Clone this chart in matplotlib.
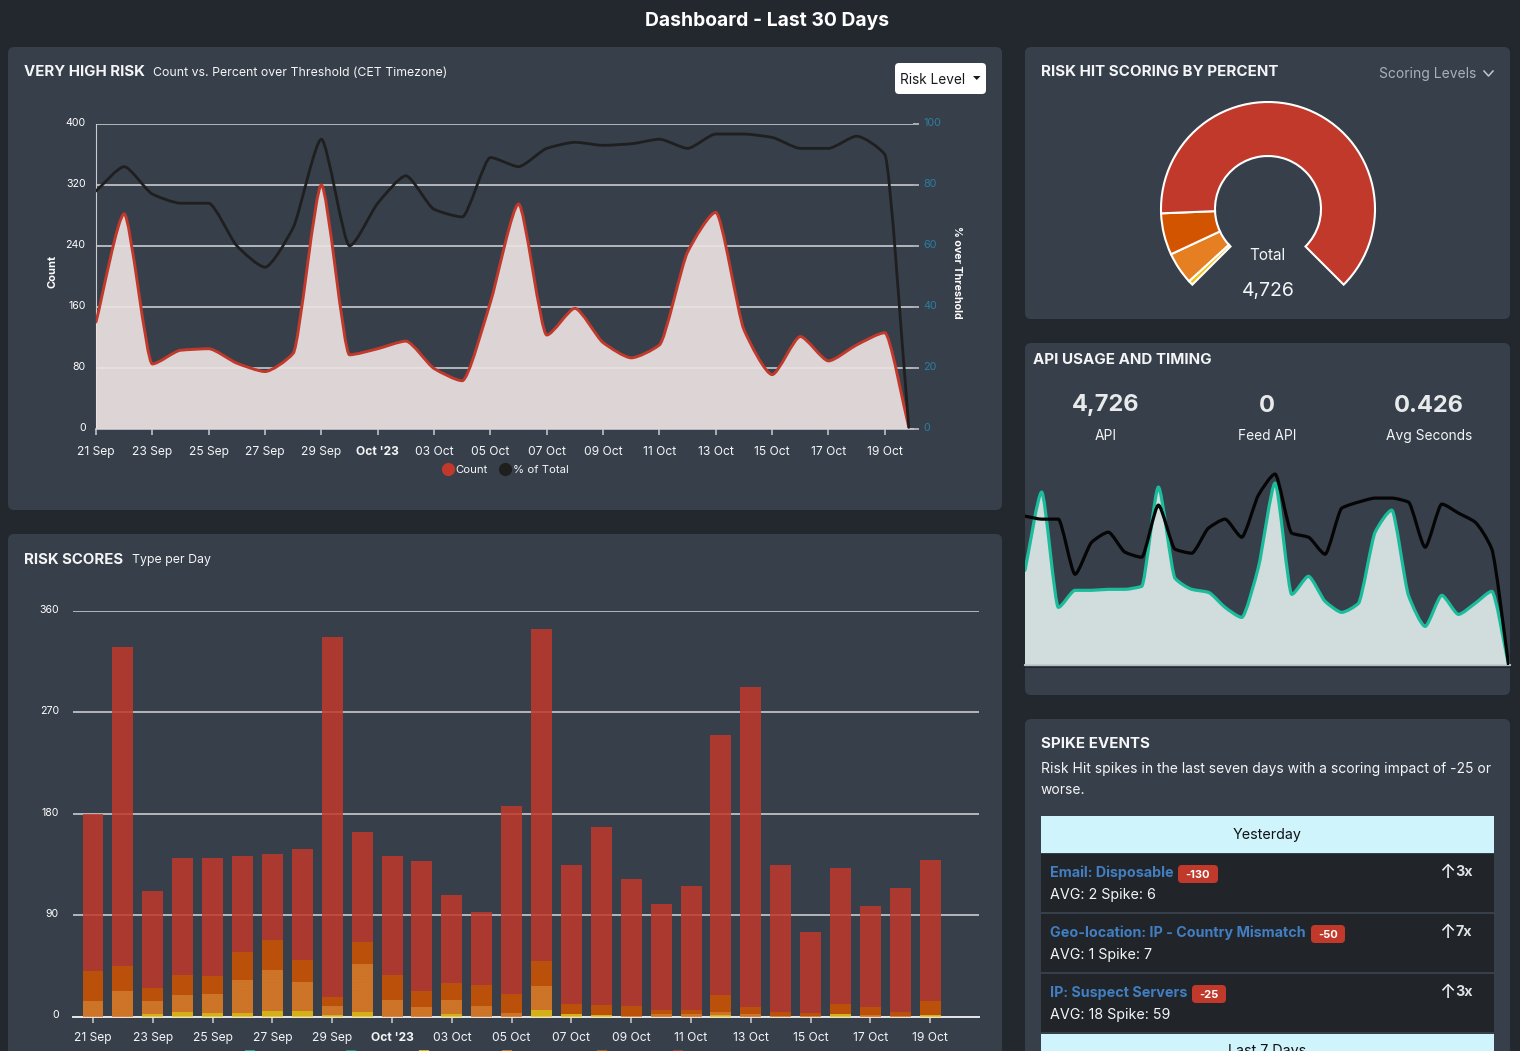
import numpy as np
import matplotlib
matplotlib.use('Agg')
import matplotlib.pyplot as plt
from matplotlib.lines import Line2D
from matplotlib.patches import FancyBboxPatch, PathPatch, Rectangle
from matplotlib.path import Path
from matplotlib.transforms import ScaledTranslation

plt.rcParams['font.family'] = ['Inter', 'DejaVu Sans']
plt.rcParams['hatch.linewidth'] = 0.4

W, H = 1520, 1051
PAGE = '#23272e'
PANEL = '#373f4a'
WHITE = '#f4f5f6'
GRID = '#c9ccd0'
RED = '#c0392b'
DARK = '#d35400'
ORANGE = '#e67e22'
YELLOW = '#f1c40f'
TEAL = '#1abc9c'
BLACK = '#1f1f1f'

# every second day gets a label
date_labels = ['21 Sep', '23 Sep', '25 Sep', '27 Sep', '29 Sep', "Oct '23", '03 Oct', '05 Oct',
               '07 Oct', '09 Oct', '11 Oct', '13 Oct', '15 Oct', '17 Oct', '19 Oct']
date_ticks = list(range(0, 29, 2))

# Very high risk chart
risk_days = list(range(29)) + [28.85]
risk_count = [140, 282, 85, 103, 105, 86, 75, 99, 320, 97, 105, 115, 79, 63, 166, 295,
              123, 158, 113, 93, 110, 232, 284, 130, 71, 121, 89, 110, 126, 2]
risk_percent = [78, 86, 77, 74, 74, 60, 53, 66, 95, 60, 74, 83, 72, 69.5, 89, 86,
                92, 94, 93, 93.5, 95, 92, 96.7, 96.7, 95.6, 92, 92, 96, 90, 0.5]

# Risk scores chart, stacked per day
score_yellow = [0, 0, 2, 4, 3, 3, 5, 5, 1, 4, 0, 0, 2, 0, 0, 5.5, 2, 1, 0, 0, 0, 1, 0, 0, 0, 2, 0, 0, 1]
score_orange = [14, 23, 12, 15, 17, 29, 36, 26, 8, 43, 15, 8, 13, 9, 3, 21.5, 0, 0, 0.5, 2, 2, 3, 2,
                0.5, 0.5, 0, 1, 0.5, 0]
score_dark = [26, 22, 11, 18, 16, 25, 27, 19, 8, 19, 22, 15, 15, 19, 17, 22, 9, 9, 8.5, 4, 4, 15, 6,
              3.5, 2.5, 9, 7, 3.5, 13]
score_red = [140, 283, 86, 104, 105, 85, 76, 99, 320, 98, 105, 115, 78, 65, 167, 295,
             123, 158, 113, 94, 110, 231, 284, 130, 72, 121, 90, 110, 125]

# Gauge
gauge_values = [45, 305, 397, 3979]
gauge_colors = [YELLOW, ORANGE, DARK, RED]
gauge_gap = 4726 / 3

# API usage sparkline
api_teal = [94, 172, 57, 74, 74, 75, 75, 78, 177, 86, 75, 72, 57, 47, 97, 181, 70, 88, 63, 52,
            61, 132, 154, 69, 38, 69, 50, 61, 73, 0]
api_black = [148, 145, 145, 90, 122, 132, 112, 107, 159, 115, 111, 136, 145, 127, 169, 190, 131,
             127, 110, 156, 162, 166, 166, 162, 117, 160, 151, 142, 115, 0]

api_stats = [('4,726', 'API', 1106), ('0', 'Feed API', 1267), ('0.426', 'Avg Seconds', 1429)]

spike_rows = [('Email: Disposable', '-130', 'AVG: 2 Spike: 6', '3x', 854, 1178, 40),
              ('Geo-location: IP - Country Mismatch', '-50', 'AVG: 1 Spike: 7', '7x', 914, 1311, 34),
              ('IP: Suspect Servers', '-25', 'AVG: 18 Spike: 59', '3x', 974, 1192, 34)]

legend_colors = [TEAL, '#16a085', YELLOW, ORANGE, DARK, RED]
legend_px = [250, 350.5, 424, 507, 602, 677.5]


def px_axes(fig, left, top, right, bottom):
    return fig.add_axes([left / W, 1 - bottom / H, (right - left) / W, (bottom - top) / H])


# Monotone bezier path through the points, handles a bit short so the peaks stay pointed
def smooth_verts(x, y, handle=0.22):
    x = np.asarray(x, float)
    y = np.asarray(y, float)
    dx = np.diff(x)
    s = np.diff(y) / dx
    m = np.zeros(len(x))
    m[0], m[-1] = s[0], s[-1]
    for i in range(1, len(x) - 1):
        if s[i - 1] * s[i] > 0:
            w1 = 2 * dx[i] + dx[i - 1]
            w2 = dx[i] + 2 * dx[i - 1]
            m[i] = (w1 + w2) / (w1 / s[i - 1] + w2 / s[i])
    verts = [(x[0], y[0])]
    codes = [Path.MOVETO]
    for i in range(len(x) - 1):
        verts += [(x[i] + dx[i] * handle, y[i] + m[i] * dx[i] * handle),
                  (x[i + 1] - dx[i] * handle, y[i + 1] - m[i + 1] * dx[i] * handle),
                  (x[i + 1], y[i + 1])]
        codes += [Path.CURVE4] * 3
    return verts, codes


def smooth_line(ax, x, y, color, lw, zorder, fill=None, alpha=1):
    verts, codes = smooth_verts(x, y)
    if fill:
        fv = verts + [(x[-1], 0), (x[0], 0), (x[0], y[0])]
        fc = codes + [Path.LINETO, Path.LINETO, Path.LINETO]
        ax.add_patch(PathPatch(Path(fv, fc), facecolor=fill, edgecolor='none', alpha=alpha, zorder=zorder))
    ax.add_patch(PathPatch(Path(verts, codes), facecolor='none', edgecolor=color, lw=lw,
                           capstyle='round', joinstyle='round', zorder=zorder + 0.1))


def raise_labels(fig, labels, px):
    off = ScaledTranslation(0, px / 100, fig.dpi_scale_trans)
    for lab in labels:
        lab.set_transform(lab.get_transform() + off)


def style_axes(ax):
    ax.patch.set_alpha(0)
    for s in ax.spines.values():
        s.set_visible(False)


fig = plt.figure(figsize=(W / 100, H / 100), dpi=100, facecolor=PAGE)

# page layer in pixel coordinates
bg = fig.add_axes([0, 0, 1, 1], zorder=0)
bg.set_xlim(0, W)
bg.set_ylim(H, 0)
bg.axis('off')


def label(x, y, s, **kw):
    kw.setdefault('va', 'center')
    bg.text(x, y + 1.5, s, **kw)


for left, top, right, bottom in [(8, 47, 1002, 510), (8, 534, 1002, 1070), (1025, 47, 1510, 319),
                                 (1025, 343, 1510, 695), (1025, 719, 1510, 1070)]:
    bg.add_patch(FancyBboxPatch((left + 6, top + 6), right - left - 12, bottom - top - 12,
                                boxstyle='round,pad=6,rounding_size=6', fc=PANEL, ec='none'))

label(767, 20, 'Dashboard - Last 30 Days', color='white', fontsize=13.9, fontweight='bold', ha='center')

# panel headers
label(24, 70.5, 'VERY HIGH RISK', color=WHITE, fontsize=10.8, fontweight='bold')
label(153, 71, 'Count vs. Percent over Threshold (CET Timezone)', color=WHITE, fontsize=8.85)
label(24, 558.5, 'RISK SCORES', color=WHITE, fontsize=10.8, fontweight='bold')
label(132, 558, 'Type per Day', color=WHITE, fontsize=8.85)
label(1041, 71, 'RISK HIT SCORING BY PERCENT', color=WHITE, fontsize=10.9, fontweight='bold')
label(1379, 72.5, 'Scoring Levels', color='#a9b0b8', fontsize=10)
bg.plot([1484, 1488.5, 1493], [71, 76, 71], color='#c3c8cd', lw=1.1)
label(1033, 358.5, 'API USAGE AND TIMING', color=WHITE, fontsize=10.9, fontweight='bold')
label(1041, 742.5, 'SPIKE EVENTS', color=WHITE, fontsize=10.9, fontweight='bold')
label(1041, 767, 'Risk Hit spikes in the last seven days with a scoring impact of -25 or', color=WHITE,
      fontsize=10)
label(1041, 788, 'worse.', color=WHITE, fontsize=10)

# risk level button
bg.add_patch(FancyBboxPatch((899, 67), 83, 23, boxstyle='round,pad=4,rounding_size=4', fc='white', ec='none'))
label(900, 78, 'Risk Level', color='#15181c', fontsize=9.8)
bg.fill([973, 980.5, 976.75], [76, 76, 80], color='#15181c', lw=0)

# Very high risk
ax1 = px_axes(fig, 96, 124, 913, 428.7)
style_axes(ax1)
ax1.set_xlim(0, 29)
ax1.set_ylim(0, 400)
ax1.set_yticks([0, 80, 160, 240, 320, 400])
ax1.set_xticks(date_ticks)
ax1.set_xticklabels(date_labels)
ax1.tick_params(axis='y', length=0, pad=7.5, labelcolor='white', labelsize=7.6)
ax1.tick_params(axis='x', length=4.3, width=1.1, color=GRID, pad=7.9, labelcolor=WHITE, labelsize=8.7)
ax1.get_xticklabels()[5].set_fontweight('bold')
raise_labels(fig, ax1.get_yticklabels(), 2)
ax1.grid(axis='y', color=GRID, lw=1.2, zorder=1)
ax1.set_axisbelow(True)
ax1.spines['left'].set_visible(True)
ax1.spines['left'].set_color(GRID)
ax1.spines['bottom'].set_visible(True)
ax1.spines['bottom'].set_color(GRID)
ax1.spines['bottom'].set_linewidth(1.2)
smooth_line(ax1, risk_days, risk_count, RED, 2.1, 3, fill='#ece2e2', alpha=0.92)
smooth_line(ax1, risk_days, [v * 4 for v in risk_percent], BLACK, 2.0, 4)

ax1r = ax1.twinx()
style_axes(ax1r)
ax1r.set_ylim(0, 100)
ax1r.set_yticks([0, 20, 40, 60, 80, 100])
ax1r.tick_params(axis='y', length=4.3, width=1.1, color=GRID, pad=3, labelcolor='#2b7ea1', labelsize=7.8)
raise_labels(fig, ax1r.get_yticklabels(), 2)
bg.text(52.5, 271.5, 'Count', color='white', fontsize=8, fontweight='bold', rotation=90, ha='center', va='center')
bg.text(957, 272, '% over Threshold', color='white', fontsize=7.7, fontweight='bold', rotation=270,
        ha='center', va='center')

marker_count = Line2D([], [], marker='o', color='none', mfc=RED, mec='none', ms=9.5)
marker_pct = Line2D([], [], marker='o', color='none', mfc=BLACK, mec='none', ms=9.5)
ax1.legend([marker_count, marker_pct], ['Count', '% of Total'], ncols=2, frameon=False,
           loc='center', bbox_to_anchor=(504 / W, 1 - 470 / H), bbox_transform=fig.transFigure,
           labelcolor=WHITE, prop={'size': 8.2}, handletextpad=0.0, columnspacing=0.75, handlelength=1.4)

# Risk scores
ax2 = px_axes(fig, 73.3, 610.7, 979, 1016.5)
style_axes(ax2)
ax2.set_xlim(-0.66, 29.63)
ax2.set_ylim(0, 360)
ax2.set_yticks([0, 90, 180, 270, 360])
ax2.set_xticks(date_ticks)
ax2.set_xticklabels(date_labels)
ax2.tick_params(axis='y', length=0, pad=10.4, labelcolor='white', labelsize=7.6)
ax2.tick_params(axis='x', length=4.3, width=1.1, color=GRID, pad=7.2, labelcolor=WHITE, labelsize=8.7)
ax2.get_xticklabels()[5].set_fontweight('bold')
raise_labels(fig, ax2.get_yticklabels(), 2)
ax2.grid(axis='y', color=GRID, lw=1.2)
ax2.set_axisbelow(True)
ax2.spines['bottom'].set_visible(True)
ax2.spines['bottom'].set_color('#e4e6e8')
ax2.spines['bottom'].set_linewidth(1.4)
days = np.arange(len(score_red))
base = np.zeros(len(days))
for vals, col in [(score_yellow, YELLOW), (score_orange, ORANGE), (score_dark, DARK), (score_red, RED)]:
    bars = ax2.bar(days, vals, 0.7, bottom=base, color=col, alpha=0.85, lw=0, zorder=3)
    if col == ORANGE:
        # the orange segments have a faint dotted pattern
        for b in bars:
            b.set_hatch('......')
            b.set_edgecolor('#d9742a')
    base = base + np.array(vals)

# legend swatches cut off by the bottom edge of the screenshot
for x, col in zip(legend_px, legend_colors):
    bg.add_patch(Rectangle((x - 5, 1049.5), 10, 5, fc=col, ec='none', alpha=0.85, zorder=5))

# Gauge
ax3 = px_axes(fig, 1158, 99, 1378, 319)
ax3.pie(gauge_values + [gauge_gap], colors=gauge_colors + ['none'], startangle=225, counterclock=False,
        radius=107, wedgeprops={'width': 54, 'edgecolor': 'white', 'linewidth': 1.5})
ax3.patches[-1].set_edgecolor('none')
ax3.set_xlim(-110, 110)
ax3.set_ylim(-110, 110)
label(1267.5, 254.5, 'Total', color=WHITE, fontsize=11, ha='center')
label(1268, 289.5, '4,726', color=WHITE, fontsize=14, ha='center')

# API usage
for num, lab, x in api_stats:
    label(x, 404, num, color='#e8eaec', fontsize=17, fontweight='bold', ha='center')
    label(x, 434.5, lab, color=WHITE, fontsize=9.9, ha='center')

ax4 = px_axes(fig, 1025, 464, 1508.5, 664.5)
style_axes(ax4)
ax4.set_xlim(0, 29)
ax4.set_ylim(0, 200)
ax4.set_xticks([])
ax4.set_yticks([])
api_x = list(range(len(api_teal)))
smooth_line(ax4, api_x, api_teal, TEAL, 2.3, 3, fill='#d0dddc')
smooth_line(ax4, api_x, api_black, '#050505', 2.3, 4)
bg.plot([1025, 1510], [665, 665], color='#b5babd', lw=1.5, zorder=3)
bg.plot([1025, 1510], [666.6, 666.6], color='#22262c', lw=0.7, zorder=3)

# Spike events table
bg.add_patch(Rectangle((1041, 816), 453, 37, fc='#cff4fc', ec='none'))
label(1267.5, 834, 'Yesterday', color='#101214', fontsize=10.3, ha='center')
for name, score, avg, mult, top, bx, bw in spike_rows:
    bg.add_patch(Rectangle((1041, top), 453, 58, fc='#212529', ec='none'))
    label(1049.5, top + 17, name, color='#417ec2', fontsize=10.3, fontweight='bold')
    bg.add_patch(FancyBboxPatch((bx + 4, top + 15), bw - 8, 10, boxstyle='round,pad=4,rounding_size=4',
                                fc=RED, ec='none'))
    label(bx + bw / 2, top + 19.5, score, color='white', fontsize=8, fontweight='bold', ha='center')
    label(1049.5, top + 39, avg, color=WHITE, fontsize=10.3)
    label(1447, top + 17, '↑', color=WHITE, fontsize=14, ha='center')
    label(1455, top + 17, mult, color='#dfe1e3', fontsize=10.3, fontweight='bold')
bg.add_patch(Rectangle((1041, 1034), 453, 20, fc='#cff4fc', ec='none'))
label(1267.5, 1050, 'Last 7 Days', color='#101214', fontsize=10.3, ha='center')

fig.savefig('out.png', dpi=100, facecolor=PAGE)
